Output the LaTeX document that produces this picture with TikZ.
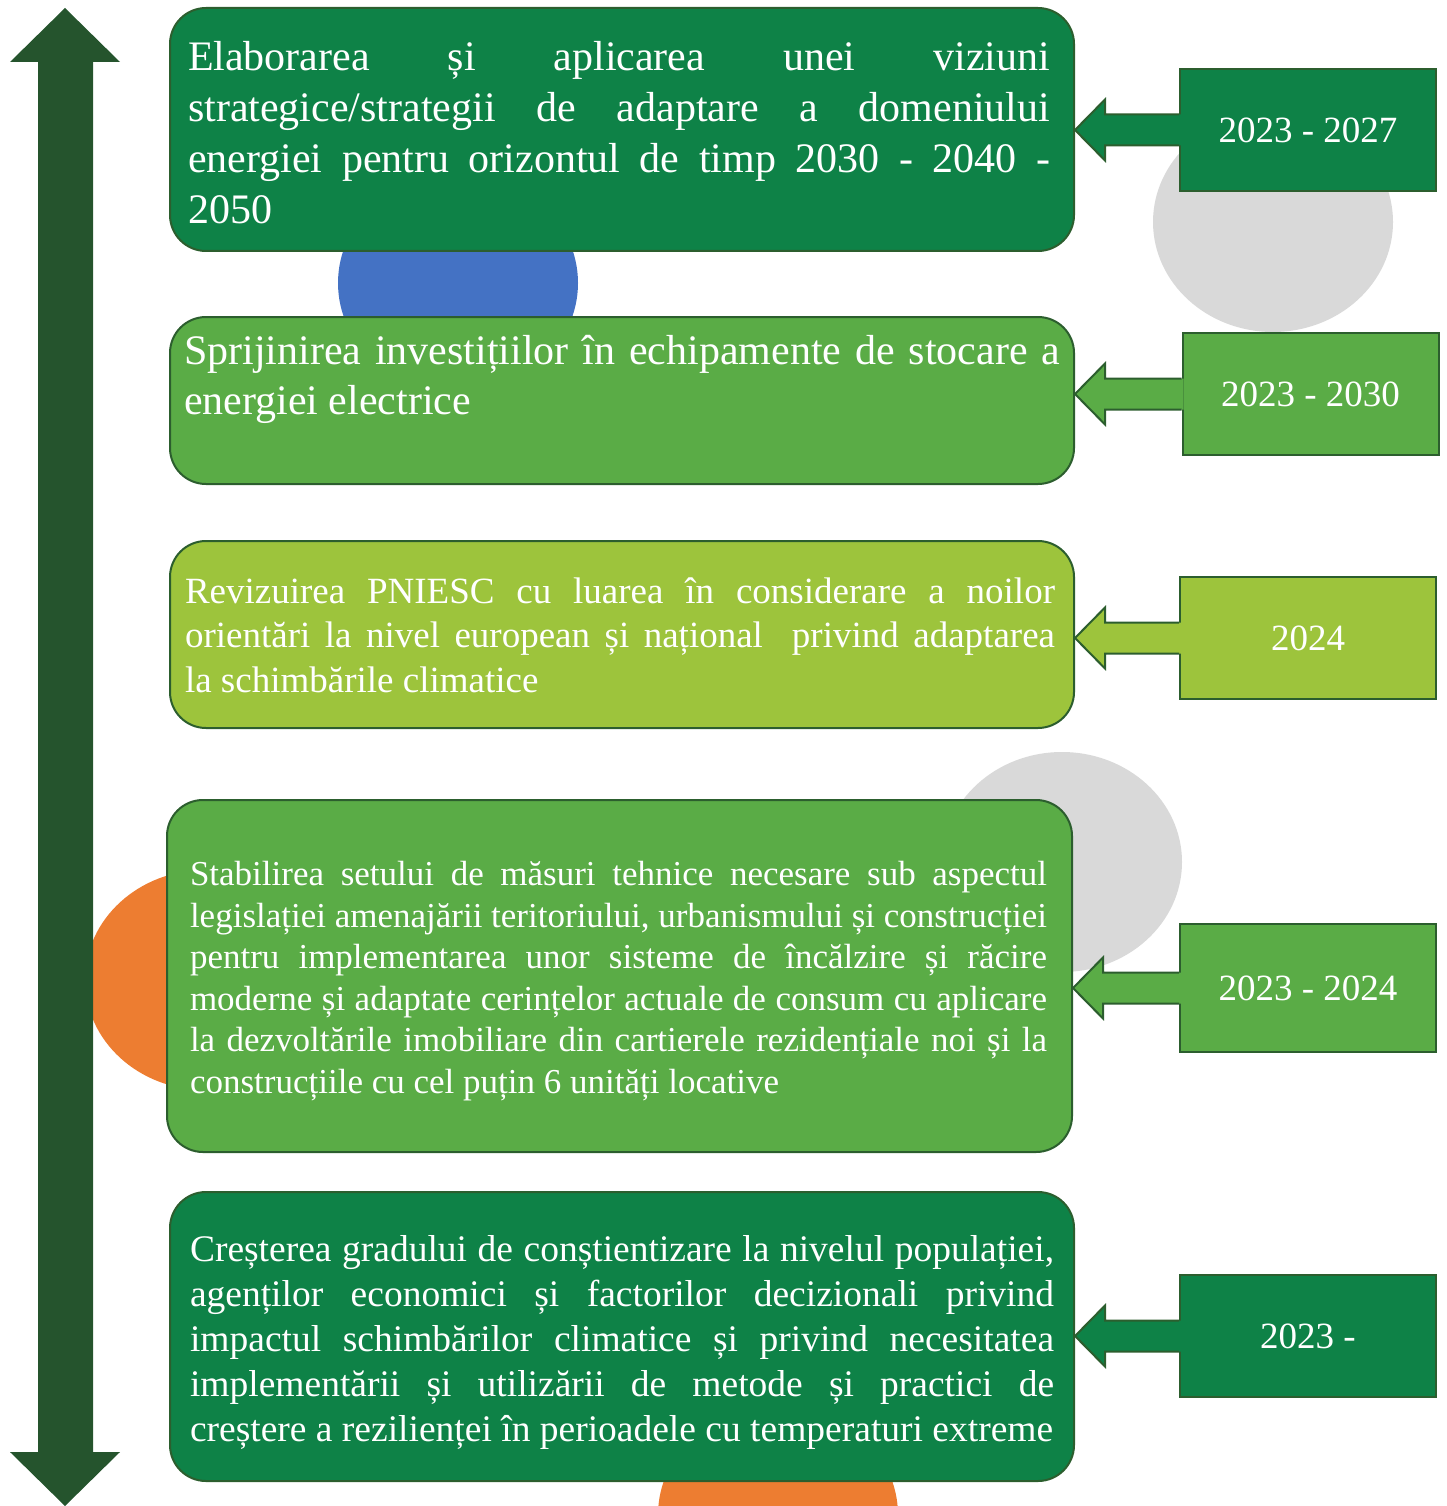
\documentclass[tikz,border=0pt]{standalone}
\usepackage{fontspec}
\setmainfont{Liberation Serif}
\usepackage{tikz}

\definecolor{dkgreen}{HTML}{0E8247}
\definecolor{mdgreen}{HTML}{5AAC46}
\definecolor{ylgreen}{HTML}{9DC43C}
\definecolor{edgegreen}{HTML}{2C5E2E}
\definecolor{axisgreen}{HTML}{25542D}
\definecolor{dotblue}{HTML}{4472C4}
\definecolor{dotorange}{HTML}{ED7D31}
\definecolor{dotgray}{HTML}{D9D9D9}

\begin{document}
\begin{tikzpicture}[x=1pt,y=-1pt,
  box/.style={draw=edgegreen, line width=2pt, rounded corners=36pt, inner sep=0pt, minimum width=904pt},
  yearbox/.style={draw=edgegreen, line width=2pt, inner sep=0pt, text=white, minimum width=256pt, minimum height=122pt, font=\fontsize{37}{44}\selectfont},
  txt/.style={text=white, align=justify, inner sep=0pt, execute at begin node={\tolerance=10000\hyphenpenalty=10000}},
  edge/.style={draw=edgegreen, line width=2pt, line join=miter}]

\useasboundingbox (0,0) rectangle (1447,1506);

% circles behind
\fill[dotblue] (458,283) ellipse [x radius=120pt, y radius=110pt];
\fill[dotgray] (1273,222) ellipse [x radius=120pt, y radius=110pt];
\fill[dotgray] (1062,862) ellipse [x radius=120pt, y radius=110pt];
\fill[dotorange] (205,980) ellipse [x radius=120pt, y radius=110pt];
\fill[dotorange] (778,1515) ellipse [x radius=120pt, y radius=110pt];

% time axis
\fill[axisgreen] (65,8) -- (120,62) -- (93,62) -- (93,1452) -- (120,1452) -- (65,1506)
  -- (10,1452) -- (38,1452) -- (38,62) -- (10,62) -- cycle;

% measures
\node[box, fill=dkgreen, minimum height=243pt] (b1) at (622,129.5) {};
\node[box, fill=mdgreen, minimum height=167pt] (b2) at (622,400.5) {};
\node[box, fill=ylgreen, minimum height=187pt] (b3) at (622,634.5) {};
\node[box, fill=mdgreen, minimum width=905pt, minimum height=352pt] (b4) at (619.5,976) {};
\node[box, fill=dkgreen, minimum height=289pt] (b5) at (622,1336.5) {};

\node[txt, text width=862pt, font=\fontsize{42}{51}\selectfont] (t1) at (619,133)
  {Elaborarea și aplicarea unei viziuni\linebreak strategice/strategii de adaptare a domeniului\linebreak energiei pentru orizontul de timp 2030 - 2040 -\linebreak 2050};
\node[txt, text width=876pt, font=\fontsize{42}{50}\selectfont, anchor=north] (t2) at (622,335)
  {Sprijinirea investițiilor în echipamente de stocare a\linebreak energiei electrice};
\node[txt, text width=870pt, font=\fontsize{37}{44.5}\selectfont] (t3) at (620,635)
  {Revizuirea PNIESC cu luarea în considerare a noilor\linebreak orientări la nivel european și național\ \ privind adaptarea\linebreak la schimbările climatice};
\node[txt, text width=857pt, font=\fontsize{35}{41.6}\selectfont] (t4) at (618.5,981)
  {Stabilirea setului de măsuri tehnice necesare sub aspectul\linebreak legislației amenajării teritoriului, urbanismului și construcției\linebreak pentru implementarea unor sisteme de încălzire și răcire\linebreak moderne și adaptate cerințelor actuale de consum cu aplicare\linebreak la dezvoltările imobiliare din cartierele rezidențiale noi și la\linebreak construcțiile cu cel puțin 6 unități locative};
\node[txt, text width=864pt, font=\fontsize{37.5}{45}\selectfont] (t5) at (622,1342)
  {Creșterea gradului de conștientizare la nivelul populației,\linebreak agenților economici și factorilor decizionali privind\linebreak impactul schimbărilor climatice și privind necesitatea\linebreak implementării și utilizării de metode și practici de\linebreak creștere a rezilienței în perioadele cu temperaturi extreme};

% periods
\node[yearbox, fill=dkgreen] (y1) at (1308,130) {2023 - 2027};
\node[yearbox, fill=mdgreen] (y2) at (1310.5,394) {2023 - 2030};
\node[yearbox, fill=ylgreen] (y3) at (1308,638) {2024};
\node[yearbox, fill=mdgreen, minimum height=128pt] (y4) at (1308,988) {2023 - 2024};
\node[yearbox, fill=dkgreen] (y5) at (1308,1336) {2023 -};

\foreach \i/\c in {1/dkgreen,2/mdgreen,3/ylgreen,4/mdgreen,5/dkgreen}
{   \coordinate (p\i) at (y\i.west -| b\i.east);
	\fill[\c] ([shift={(2,-15.5)}]y\i.west) -- ([shift={(30,-15.5)}]p\i) -- ([shift={(30,-30.5)}]p\i) -- (p\i)
	  -- ([shift={(30,30.5)}]p\i) -- ([shift={(30,15.5)}]p\i) -- ([shift={(2,15.5)}]y\i.west) -- cycle;
	\draw[edge] ([shift={(0,-15.5)}]y\i.west) -- ([shift={(30,-15.5)}]p\i) -- ([shift={(30,-30.5)}]p\i) -- (p\i)
	  -- ([shift={(30,30.5)}]p\i) -- ([shift={(30,15.5)}]p\i) -- ([shift={(0,15.5)}]y\i.west);
}

\end{tikzpicture}
\end{document}
